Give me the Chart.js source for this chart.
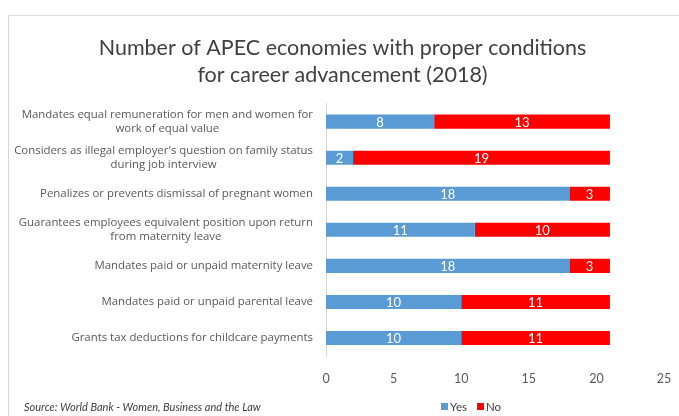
<!DOCTYPE html>
<html>
<head>
<meta charset="utf-8">
<script src="https://cdn.jsdelivr.net/npm/chart.js@4/dist/chart.umd.min.js"></script>
<style>
html,body{margin:0;padding:0;background:#fff;}
#wrap{width:679px;height:416px;position:relative;}
</style>
</head>
<body>
<div id="wrap"><canvas id="c" width="679" height="416"></canvas></div>
<script>
const categories = [
  ["Mandates equal remuneration for men and women for", "work of equal value"],
  ["Considers as illegal employer's question on family status", "during job interview"],
  ["Penalizes or prevents dismissal of pregnant women"],
  ["Guarantees employees equivalent position upon return", "from maternity leave"],
  ["Mandates paid or unpaid maternity leave"],
  ["Mandates paid or unpaid parental leave"],
  ["Grants tax deductions for childcare payments"]
];
const yesValues = [8, 2, 18, 11, 18, 10, 10];
const noValues = [13, 19, 3, 10, 3, 11, 11];
const xTicks = [0, 5, 10, 15, 20, 25];
const titleLines = ["Number of APEC economies with proper conditions", "for career advancement (2018)"];
const sourceText = "Source: World Bank - Women, Business and the Law";

const FONT = "Lato, 'Open Sans', sans-serif";
const LABEL_FONT = "'Open Sans', sans-serif";

const decorPlugin = {
  id: 'decor',
  beforeDraw(chart) {
    const ctx = chart.ctx;
    ctx.save();
    ctx.fillStyle = '#fff';
    ctx.fillRect(0, 0, chart.width, chart.height);
    ctx.strokeStyle = '#d9d9d9';
    ctx.lineWidth = 1;
    ctx.beginPath();
    ctx.moveTo(8.5, chart.height);
    ctx.lineTo(8.5, 15.5);
    ctx.lineTo(chart.width, 15.5);
    ctx.stroke();
    ctx.restore();
  },
  afterDraw(chart) {
    const ctx = chart.ctx;
    const yScale = chart.scales.y;
    ctx.save();
    ctx.font = "11.4px " + LABEL_FONT;
    ctx.fillStyle = '#595959';
    ctx.textBaseline = 'middle';
    ctx.textAlign = 'center';
    const rightEdge = yScale.right - 13;
    const lh = 14;
    categories.forEach((lines, i) => {
      const yc = yScale.getPixelForValue(i);
      const widest = Math.max(...lines.map(l => ctx.measureText(l).width));
      const cx = rightEdge - widest / 2;
      const y0 = yc - (lines.length - 1) * lh / 2;
      lines.forEach((l, j) => ctx.fillText(l, cx, y0 + j * lh));
    });
    ctx.font = "13px " + FONT;
    ctx.fillStyle = '#ffffff';
    chart.data.datasets.forEach((ds, di) => {
      const meta = chart.getDatasetMeta(di);
      meta.data.forEach((bar, i) => {
        const p = bar.getProps(['x', 'y', 'base'], true);
        ctx.fillText(String(ds.data[i]), (p.x + p.base) / 2, p.y + 1);
      });
    });
    ctx.font = "italic 11px " + FONT;
    ctx.fillStyle = '#404040';
    ctx.textAlign = 'left';
    ctx.fillText(sourceText, 24, 407);
    ctx.font = "11.5px " + FONT;
    let x = 441;
    chart.data.datasets.forEach(ds => {
      ctx.fillStyle = ds.backgroundColor;
      ctx.fillRect(x, 403, 7, 7);
      ctx.fillStyle = '#404040';
      ctx.fillText(ds.label, x + 9, 407);
      x += 9 + ctx.measureText(ds.label).width + 10;
    });
    ctx.restore();
  }
};

new Chart(document.getElementById('c'), {
  type: 'bar',
  data: {
    labels: categories,
    datasets: [
      { label: 'Yes', data: yesValues, backgroundColor: '#5B9BD5', barPercentage: 0.39, categoryPercentage: 1.0 },
      { label: 'No', data: noValues, backgroundColor: '#FF0000', barPercentage: 0.39, categoryPercentage: 1.0 }
    ]
  },
  options: {
    indexAxis: 'y',
    responsive: false,
    animation: false,
    devicePixelRatio: 1,
    layout: { padding: { top: 34, bottom: 31, left: 21, right: 15 } },
    plugins: {
      legend: { display: false },
      tooltip: { enabled: false },
      title: {
        display: true,
        text: titleLines,
        color: '#404040',
        font: { family: FONT, size: 21.5, weight: 'normal', lineHeight: 1.27 },
        padding: { top: 0, bottom: 15 }
      }
    },
    scales: {
      x: {
        stacked: true,
        min: 0, max: 25,
        afterBuildTicks(scale) { scale.ticks = xTicks.map(v => ({ value: v })); },
        grid: { display: false, drawTicks: true, tickLength: 12 },
        border: { display: false },
        ticks: { color: '#595959', font: { family: FONT, size: 12.5 }, padding: 3, maxRotation: 0 },
        afterFit(scale) { scale.height = 29; }
      },
      y: {
        stacked: true,
        grid: { display: false },
        border: { display: true, color: '#d9d9d9' },
        ticks: { display: false },
        afterFit(scale) { scale.width = 305; }
      }
    }
  },
  plugins: [decorPlugin]
});
</script>
</body>
</html>
